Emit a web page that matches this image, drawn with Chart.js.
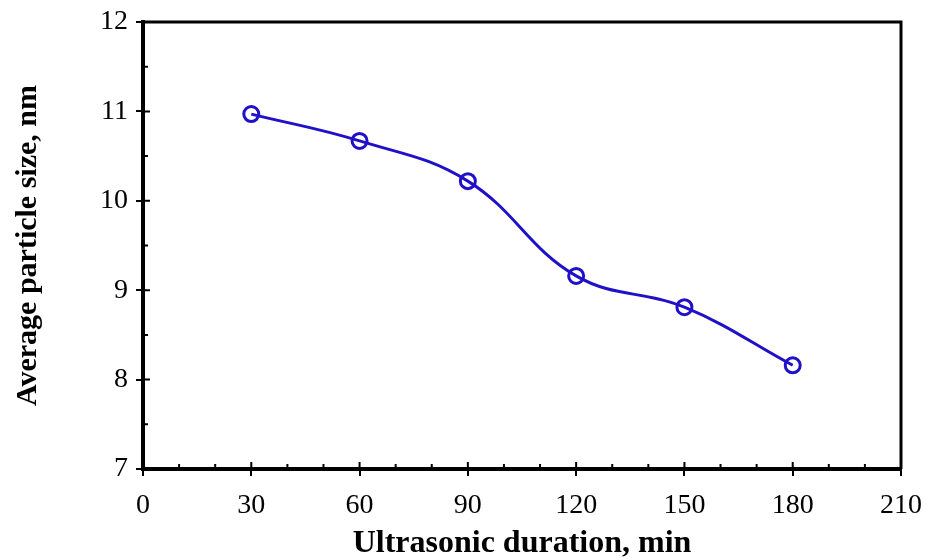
<!DOCTYPE html>
<html>
<head>
<meta charset="utf-8">
<script src="https://cdn.jsdelivr.net/npm/chart.js@4/dist/chart.umd.min.js"></script>
<style>
  html, body { margin: 0; padding: 0; background: #fff; }
  #wrap { width: 932px; height: 560px; }
</style>
</head>
<body>
<div id="wrap"><canvas id="chart"></canvas></div>
<script>
// Average particle size vs. ultrasonic duration
const durations = [30, 60, 90, 120, 150, 180];          // min
const particleSize = [10.97, 10.67, 10.22, 9.16, 8.81, 8.16]; // nm

const xTicks = [0, 30, 60, 90, 120, 150, 180, 210];
const yTicks = [7, 8, 9, 10, 11, 12];

const lineColor = '#2010c8';
const serif = "'Liberation Serif', 'Times New Roman', serif";

// frame on top/right and inward tick marks (major + minor)
const framePlugin = {
    id: 'frame',
    afterDraw(chart) {
        const { ctx, chartArea: a, scales } = chart;
        ctx.save();
        ctx.strokeStyle = '#000';
        ctx.lineWidth = 3;
        ctx.beginPath();
        ctx.moveTo(a.left, a.top);
        ctx.lineTo(a.right, a.top);
        ctx.lineTo(a.right, a.bottom);
        ctx.stroke();

        ctx.lineWidth = 2;
        ctx.beginPath();
        // x axis: major every 30, minor every 10, pointing up
        for (let v = 10; v < 210; v += 10) {
            const px = scales.x.getPixelForValue(v);
            const len = v % 30 === 0 ? 7 : 5;
            ctx.moveTo(px, a.bottom);
            ctx.lineTo(px, a.bottom - len);
        }
        // y axis: major every 1, minor every 0.5, pointing right
        for (let v = 7.5; v < 12; v += 0.5) {
            const py = scales.y.getPixelForValue(v);
            const len = Number.isInteger(v) ? 7 : 5;
            ctx.moveTo(a.left, py);
            ctx.lineTo(a.left + len, py);
        }
        ctx.stroke();
        ctx.restore();
    }
};

new Chart(document.getElementById('chart'), {
    type: 'line',
    data: {
        datasets: [{
            data: durations.map((d, i) => ({ x: d, y: particleSize[i] })),
            borderColor: lineColor,
            borderWidth: 3,
            tension: 0.4,
            pointRadius: 7.5,
            pointBorderWidth: 3,
            pointBorderColor: lineColor,
            pointBackgroundColor: 'rgba(0,0,0,0)',
            fill: false
        }]
    },
    options: {
        responsive: true,
        maintainAspectRatio: false,
        animation: false,
        layout: { padding: { top: 22, right: 31, bottom: 0, left: 0 } },
        plugins: {
            legend: { display: false },
            tooltip: { enabled: false }
        },
        scales: {
            x: {
                type: 'linear',
                min: 0,
                max: 210,
                afterBuildTicks: s => { s.ticks = xTicks.map(v => ({ value: v })); },
                afterFit: s => { s.height = 91; s.paddingLeft = 0; s.paddingRight = 0; },
                border: { color: '#000', width: 4 },
                grid: { drawOnChartArea: false, drawTicks: true, tickLength: 7, color: '#000', lineWidth: 2 },
                ticks: { color: '#000', padding: 13, font: { family: serif, size: 28 }, maxRotation: 0 },
                title: {
                    display: true,
                    text: 'Ultrasonic duration, min',
                    color: '#000',
                    padding: { top: 0, bottom: 0 },
                    font: { family: serif, size: 32, weight: 'bold', lineHeight: 1 }
                }
            },
            y: {
                min: 7,
                max: 12,
                afterBuildTicks: s => { s.ticks = yTicks.map(v => ({ value: v })); },
                afterFit: s => { s.width = 143; s.paddingTop = 0; s.paddingBottom = 0; },
                border: { color: '#000', width: 4 },
                grid: { drawOnChartArea: false, drawTicks: true, tickLength: 7, color: '#000', lineWidth: 2 },
                ticks: { color: '#000', padding: 8, font: { family: serif, size: 28 } },
                title: {
                    display: true,
                    text: 'Average particle size, nm',
                    color: '#000',
                    padding: { top: 13, bottom: 0 },
                    font: { family: serif, size: 30, weight: 'bold', lineHeight: 1 }
                }
            }
        }
    },
    plugins: [framePlugin]
});
</script>
</body>
</html>
